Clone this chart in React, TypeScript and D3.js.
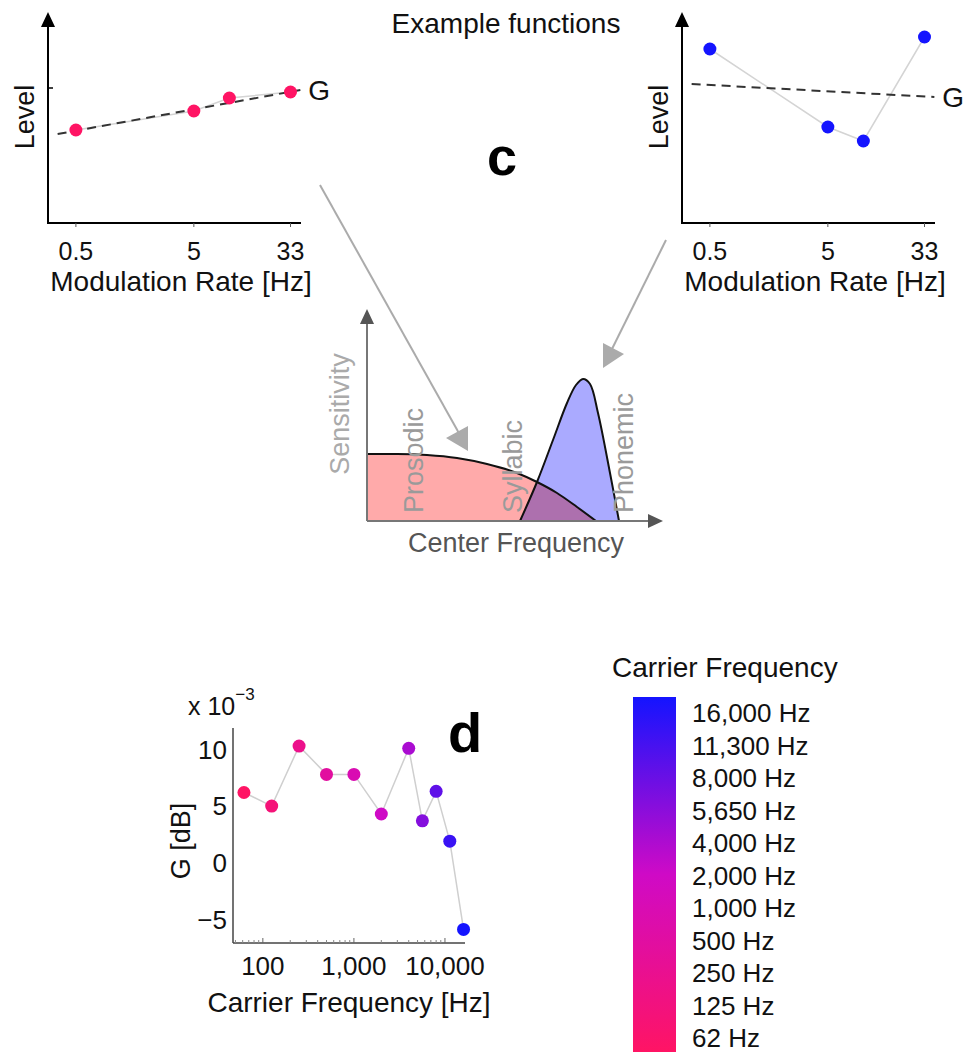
import React from "react";
import * as d3 from "d3";

// ---- Example functions (panel c, top) ----
const modRates = [0.5, 5, 10, 33];
const modTicks = [0.5, 5, 33];
const levelFlat = [4.65, 5.6, 6.25, 6.55];
const levelBumpy = [8.7, 4.8, 4.1, 9.3];
const gRates = [0.35, 40];
const gFlat = [4.45, 6.65];
const gBumpy = [6.95, 6.3];

// ---- Schematic sensitivity curves (panel c, middle) ----
const prosodicX = [0, 30, 60, 90, 120, 150, 170, 190, 210, 229];
const prosodicY = [67, 67, 66, 63, 57, 48, 39, 28, 14, 0];
const phonemicX = [153, 170, 186, 200, 209, 216, 223, 231, 243, 252];
const phonemicY = [0, 39, 81, 118, 136, 142, 137, 108, 48, 0];
const bandLabels = ["Prosodic", "Syllabic", "Phonemic"];

// ---- Panel d ----
const carrierFreqs = [62, 125, 250, 500, 1000, 2000, 4000, 5650, 8000, 11300, 16000];
const gValues = [6.2, 5.0, 10.3, 7.8, 7.8, 4.3, 10.1, 3.7, 6.3, 1.9, -5.9];
const gTicks = [-5, 0, 5, 10];
const freqTicks = [100, 1000, 10000];
const colorStops = ["#ff1464", "#cf0ac6", "#1414ff"];

const FONT = "'Liberation Sans', Arial, Helvetica, sans-serif";

const carrierColor = d3
  .scaleLinear<string>()
  .domain([0, (carrierFreqs.length - 1) / 2, carrierFreqs.length - 1])
  .range(colorStops)
  .interpolate(d3.interpolateRgb);

function ExamplePanel({ x0, levels, gLevels, color, tick }: any) {
  const x = d3.scaleLog().domain([0.29, 40.5]).range([x0, x0 + 253]);
  const y = d3.scaleLinear().domain([0, 10]).range([223, 23]);
  const line = d3
    .line<number>()
    .x((_, i) => x(modRates[i]))
    .y((d) => y(d));
  const gLine = d3
    .line<number>()
    .x((_, i) => x(gRates[i]))
    .y((d) => y(d));
  return (
    <g>
      <line x1={x0} y1={223} x2={x0} y2={24} stroke="#000" strokeWidth={2} />
      <path d={`M${x0},12L${x0 - 7},27L${x0 + 7},27Z`} fill="#000" />
      <line x1={x0 - 1} y1={223} x2={x0 + 253} y2={223} stroke="#000" strokeWidth={2} />
      {modTicks.map((t) => (
        <g key={t}>
          <line x1={x(t)} x2={x(t)} y1={223} y2={227} stroke="#555" strokeWidth={1} />
          <text x={x(t)} y={260} textAnchor="middle" fontSize={25} fontFamily={FONT} fill="#111">
            {t}
          </text>
        </g>
      ))}
      {tick && <line x1={x0} x2={x0 + 5} y1={y(6.75)} y2={y(6.75)} stroke="#000" strokeWidth={1.5} />}
      <text x={x0 + 133} y={291} textAnchor="middle" fontSize={28} fontFamily={FONT} fill="#111">
        Modulation Rate [Hz]
      </text>
      <text
        transform={`translate(${x0 - 14},117) rotate(-90)`}
        textAnchor="middle"
        fontSize={27}
        fontFamily={FONT}
        fill="#111"
      >
        Level
      </text>
      <path d={line(levels) || ""} fill="none" stroke="#d4d4d4" strokeWidth={1.5} />
      <path d={gLine(gLevels) || ""} fill="none" stroke="#333" strokeWidth={2} strokeDasharray="9,6" />
      {levels.map((v: number, i: number) => (
        <circle key={i} cx={x(modRates[i])} cy={y(v)} r={6.5} fill={color} />
      ))}
      <text
        x={x(gRates[1]) + 8}
        y={y(gLevels[1])}
        dy="0.36em"
        fontSize={28}
        fontFamily={FONT}
        fill="#111"
      >
        G
      </text>
    </g>
  );
}

function Schematic() {
  const fx = d3.scaleLinear().domain([0, 300]).range([367, 667]);
  const sy = d3.scaleLinear().domain([0, 212]).range([521, 309]);
  const area = d3
    .area<[number, number]>()
    .x((d) => fx(d[0]))
    .y0(sy(0))
    .y1((d) => sy(d[1]));
  const top = d3
    .line<[number, number]>()
    .x((d) => fx(d[0]))
    .y((d) => sy(d[1]));
  const proCurve = d3.curveMonotoneX;
  const phoCurve = d3.curveCatmullRom.alpha(0.5);
  const pro = prosodicX.map((v, i) => [v, prosodicY[i]] as [number, number]);
  const pho = phonemicX.map((v, i) => [v, phonemicY[i]] as [number, number]);
  const proArea = area.curve(proCurve)(pro) || "";
  const phoArea = area.curve(phoCurve)(pho) || "";
  const proTop = top.curve(proCurve)(pro) || "";
  const phoTop = top.curve(phoCurve)(pho) || "";
  const labelX = [56, 155, 266];
  return (
    <g>
      <defs>
        <clipPath id="proClip">
          <path d={proArea} />
        </clipPath>
      </defs>
      <path d={proArea} fill="#ffaaaa" />
      <path d={phoArea} fill="#aaaaff" />
      <path d={phoArea} fill="#ad70ae" clipPath="url(#proClip)" />
      <path d={proTop} fill="none" stroke="#111" strokeWidth={2} />
      <path d={phoTop} fill="none" stroke="#111" strokeWidth={2} />
      {bandLabels.map((l, i) => (
        <text
          key={l}
          transform={`translate(${fx(labelX[i])},${sy(8)}) rotate(-90)`}
          fontSize={27}
          fontFamily={FONT}
          fill="#9a9a9a"
        >
          {l}
        </text>
      ))}
      <line x1={fx(0)} y1={sy(0)} x2={fx(0)} y2={sy(198)} stroke="#777" strokeWidth={2} />
      <path d={`M${fx(0)},${sy(212)}L${fx(0) - 7},${sy(197)}L${fx(0) + 7},${sy(197)}Z`} fill="#555" />
      <line x1={fx(0)} y1={sy(0)} x2={fx(282)} y2={sy(0)} stroke="#777" strokeWidth={2} />
      <path d={`M${fx(296)},${sy(0)}L${fx(281)},${sy(0) - 7}L${fx(281)},${sy(0) + 7}Z`} fill="#555" />
      <text
        transform={`translate(349,414) rotate(-90)`}
        textAnchor="middle"
        fontSize={27}
        fontFamily={FONT}
        fill="#aaaaaa"
      >
        Sensitivity
      </text>
      <text x={516} y={552} textAnchor="middle" fontSize={27} fontFamily={FONT} fill="#555">
        Center Frequency
      </text>
    </g>
  );
}

function PanelD() {
  const x = d3.scaleLog().domain([47, 16600]).range([233, 465]);
  const y = d3.scaleLinear().domain([-7.1, 11.9]).range([943, 728]);
  const line = d3
    .line<number>()
    .x((_, i) => x(carrierFreqs[i]))
    .y((d) => y(d));
  const minor: number[] = [];
  for (let dec = 10; dec <= 10000; dec *= 10) {
    for (let k = 2; k <= 9; k++) {
      const v = dec * k;
      if (v >= 47 && v <= 16600 && !freqTicks.includes(v)) minor.push(v);
    }
  }
  const fmt = d3.format(",");
  return (
    <g>
      <line x1={233} y1={728} x2={233} y2={943} stroke="#444" strokeWidth={1.5} />
      <line x1={233} y1={943} x2={465} y2={943} stroke="#444" strokeWidth={1.5} />
      {minor.map((v) => (
        <line key={v} x1={x(v)} x2={x(v)} y1={943} y2={940} stroke="#888" strokeWidth={1} />
      ))}
      {freqTicks.map((t) => (
        <g key={t}>
          <line x1={x(t)} x2={x(t)} y1={943} y2={938} stroke="#666" strokeWidth={1} />
          <text x={x(t)} y={975} textAnchor="middle" fontSize={26} fontFamily={FONT} fill="#111">
            {fmt(t)}
          </text>
        </g>
      ))}
      {gTicks.map((t) => (
        <text
          key={t}
          x={227}
          y={y(t)}
          dy="0.36em"
          textAnchor="end"
          fontSize={26}
          fontFamily={FONT}
          fill="#111"
        >
          {d3.format("")(t)}
        </text>
      ))}
      <text x={188} y={715} fontSize={25} fontFamily={FONT} fill="#111">
        x 10
        <tspan fontSize={17} dy={-15}>
          −3
        </tspan>
      </text>
      <text
        transform={`translate(190,841) rotate(-90)`}
        textAnchor="middle"
        fontSize={27}
        fontFamily={FONT}
        fill="#111"
      >
        G [dB]
      </text>
      <text x={349} y={1012} textAnchor="middle" fontSize={28} fontFamily={FONT} fill="#111">
        Carrier Frequency [Hz]
      </text>
      <path d={line(gValues) || ""} fill="none" stroke="#cfcfcf" strokeWidth={1.5} />
      {gValues.map((v, i) => (
        <circle key={i} cx={x(carrierFreqs[i])} cy={y(v)} r={6.5} fill={carrierColor(i)} />
      ))}
      <text x={465} y={752} textAnchor="middle" fontSize={56} fontWeight="bold" fontFamily={FONT} fill="#000">
        d
      </text>
    </g>
  );
}

function ColorBar() {
  const n = carrierFreqs.length;
  const fmt = d3.format(",");
  const labelY = d3.scaleLinear().domain([n - 1, 0]).range([722, 1047]);
  return (
    <g>
      <defs>
        <linearGradient id="cbGrad" x1="0" y1="1" x2="0" y2="0">
          {carrierFreqs.map((_, i) => (
            <stop key={i} offset={i / (n - 1)} stopColor={carrierColor(i)} />
          ))}
        </linearGradient>
      </defs>
      <text x={612} y={677} fontSize={28} fontFamily={FONT} fill="#111">
        Carrier Frequency
      </text>
      <rect x={633} y={697} width={43} height={355} fill="url(#cbGrad)" />
      {carrierFreqs.map((f, i) => (
        <text key={f} x={692} y={labelY(i)} fontSize={26} fontFamily={FONT} fill="#111">
          {`${fmt(f)} Hz`}
        </text>
      ))}
    </g>
  );
}

export default function App() {
  return (
    <svg
      width={965}
      height={1052}
      style={{ position: "absolute", left: 0, top: 0, background: "#fff" }}
    >
      <rect width={965} height={1052} fill="#fff" />
      <text x={506} y={33} textAnchor="middle" fontSize={28} fontFamily={FONT} fill="#111">
        Example functions
      </text>
      <text x={502} y={175} textAnchor="middle" fontSize={54} fontWeight="bold" fontFamily={FONT} fill="#000">
        c
      </text>
      <ExamplePanel x0={48} levels={levelFlat} gLevels={gFlat} color={carrierColor(0)} tick />
      <ExamplePanel
        x0={682}
        levels={levelBumpy}
        gLevels={gBumpy}
        color={carrierColor(carrierFreqs.length - 1)}
      />
      {/* grey arrows linking examples to the schematic */}
      <g stroke="#ababab" fill="#ababab">
        <line x1={320} y1={185} x2={460} y2={435} strokeWidth={2} />
        <path d="M468,451L446,438L468,426Z" stroke="none" />
        <line x1={666} y1={240} x2={610} y2={353} strokeWidth={2} />
        <path d="M603,368L603,343L624,354Z" stroke="none" />
      </g>
      <Schematic />
      <PanelD />
      <ColorBar />
    </svg>
  );
}
